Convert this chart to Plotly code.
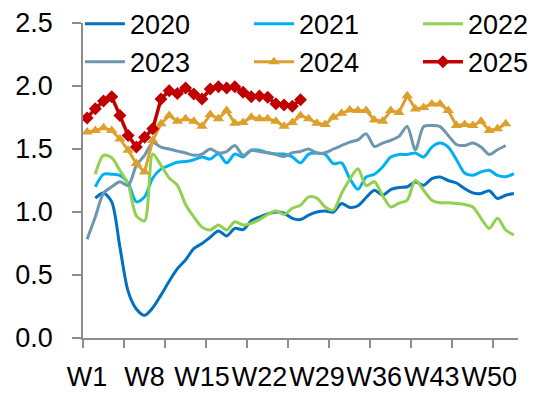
import plotly.graph_objects as go

weeks = list(range(1, 54))
tick_weeks = [1, 8, 15, 22, 29, 36, 43, 50]
tick_labels = ["W1", "W8", "W15", "W22", "W29", "W36", "W43", "W50"]

y2020 = [None, 1.11, 1.15, 1.08, 0.72, 0.37, 0.23, 0.18, 0.24, 0.34, 0.45, 0.55, 0.62, 0.71, 0.75,
         0.80, 0.85, 0.81, 0.87, 0.86, 0.93, 0.96, 0.985, 1.00, 0.99, 0.95, 0.94, 0.976, 1.00, 1.007,
         1.00, 1.068, 1.036, 1.05, 1.115, 1.173, 1.133, 1.178, 1.194, 1.20, 1.239, 1.212, 1.265, 1.278,
         1.25, 1.23, 1.186, 1.152, 1.147, 1.168, 1.107, 1.133, 1.147]
y2021 = [None, 1.20, 1.30, 1.30, 1.29, 1.23, 1.08, 1.12, 1.27, 1.34, 1.37, 1.395, 1.40, 1.415, 1.437,
         1.42, 1.463, 1.39, 1.46, 1.437, 1.49, 1.49, 1.47, 1.46, 1.46, 1.437, 1.39, 1.46, 1.468, 1.457,
         1.384, 1.39, 1.265, 1.18, 1.278, 1.30, 1.357, 1.436, 1.457, 1.457, 1.468, 1.437, 1.515, 1.547,
         1.515, 1.415, 1.31, 1.291, 1.318, 1.331, 1.29, 1.28, 1.305]
y2022 = [None, 1.30, 1.45, 1.43, 1.33, 1.22, 0.97, 0.93, 1.46, 1.37, 1.27, 1.212, 1.06, 0.962, 0.88,
         0.857, 0.897, 0.857, 0.923, 0.897, 0.91, 0.94, 0.98, 1.01, 0.98, 1.03, 1.054, 1.12, 1.11, 1.04,
         1.015, 1.147, 1.26, 1.344, 1.21, 1.24, 1.13, 1.04, 1.07, 1.094, 1.252, 1.173, 1.094, 1.073,
         1.073, 1.068, 1.06, 1.04, 0.95, 0.87, 0.95, 0.857, 0.818]
y2023 = [0.784, 0.96, 1.15, 1.20, 1.24, 1.21, 1.37, 1.45, 1.55, 1.515, 1.50, 1.483, 1.468, 1.45, 1.46,
         1.50, 1.47, 1.48, 1.528, 1.45, 1.49, 1.48, 1.47, 1.457, 1.44, 1.47, 1.48, 1.50, 1.468, 1.47,
         1.50, 1.528, 1.555, 1.573, 1.62, 1.52, 1.547, 1.568, 1.60, 1.678, 1.494, 1.678, 1.686, 1.678,
         1.607, 1.536, 1.528, 1.547, 1.515, 1.457, 1.494, 1.528, None]
y2024 = [1.634, 1.647, 1.668, 1.647, 1.58, 1.49, 1.384, 1.318, 1.568, 1.70, 1.765, 1.72, 1.74, 1.72,
         1.68, 1.773, 1.74, 1.805, 1.705, 1.71, 1.752, 1.74, 1.74, 1.72, 1.68, 1.71, 1.765, 1.74, 1.705,
         1.694, 1.752, 1.784, 1.81, 1.805, 1.805, 1.73, 1.72, 1.805, 1.79, 1.923, 1.818, 1.83, 1.858,
         1.858, 1.805, 1.686, 1.694, 1.686, 1.72, 1.647, 1.66, 1.70, None]
y2025 = [1.747, 1.82, 1.88, 1.915, 1.765, 1.607, 1.515, 1.594, 1.66, 1.897, 1.963, 1.94, 1.984, 1.937,
         1.897, 1.976, 1.994, 1.984, 1.994, 1.95, 1.915, 1.92, 1.91, 1.86, 1.85, 1.84, 1.89]

FONT = "Liberation Sans, Arial, sans-serif"
AXIS = "#8C8C8C"

fig = go.Figure()
smooth = [("2020", y2020, "#0070C0"), ("2021", y2021, "#00B0F0"), ("2022", y2022, "#92D050")]
for name, ys, col in smooth:
    fig.add_trace(go.Scatter(x=weeks, y=ys, name=name, mode="lines",
                             line=dict(color=col, width=3, shape="spline", smoothing=0.8)))
fig.add_trace(go.Scatter(x=weeks, y=y2023, name="2023", mode="lines",
                         line=dict(color="#6E97AE", width=3, shape="spline", smoothing=0.8)))
fig.add_trace(go.Scatter(x=weeks, y=y2024, name="2024", mode="lines+markers",
                         line=dict(color="#DDA02C", width=3),
                         marker=dict(symbol="triangle-up", size=10, color="#DDA02C")))
fig.add_trace(go.Scatter(x=weeks[:len(y2025)], y=y2025, name="2025", mode="lines+markers",
                         line=dict(color="#C00000", width=3.5),
                         marker=dict(symbol="diamond", size=10, color="#C00000")))

fig.update_layout(
    width=553, height=397,
    margin=dict(l=83, r=35, t=22.5, b=58.5, autoexpand=False),
    paper_bgcolor="white", plot_bgcolor="white",
    font=dict(family=FONT, size=27, color="black"),
    showlegend=True,
    legend=dict(orientation="h", x=-0.007, xanchor="left", y=1.074, yanchor="top",
                bgcolor="rgba(0,0,0,0)", font=dict(size=27, family=FONT),
                itemwidth=40, entrywidth=114, entrywidthmode="pixels",
                traceorder="normal", tracegroupgap=0),
    xaxis=dict(range=[0.5, 53.5], showgrid=False, zeroline=False,
               showline=True, linecolor=AXIS, linewidth=1.5,
               tickmode="array", tickvals=tick_weeks, ticktext=tick_labels,
               ticks="", ticklabelstandoff=14, tickangle=0,
               tickfont=dict(size=27, family=FONT),
               minor=dict(tickmode="array", tickvals=[0.5 + 5 * k for k in range(11)],
                          ticks="outside", ticklen=8, tickcolor=AXIS, tickwidth=1.5, showgrid=False)),
    yaxis=dict(range=[0, 2.5], dtick=0.5, tick0=0, tickformat=".1f", showgrid=False,
               zeroline=False, showline=True, linecolor=AXIS, linewidth=1.5,
               ticks="outside", ticklen=9, tickcolor=AXIS, tickwidth=1.5,
               ticklabelstandoff=14, tickfont=dict(size=27, family=FONT)),
)

fig.write_html("out.html", config={"displayModeBar": False},
               post_script="document.body.style.margin='0';")
